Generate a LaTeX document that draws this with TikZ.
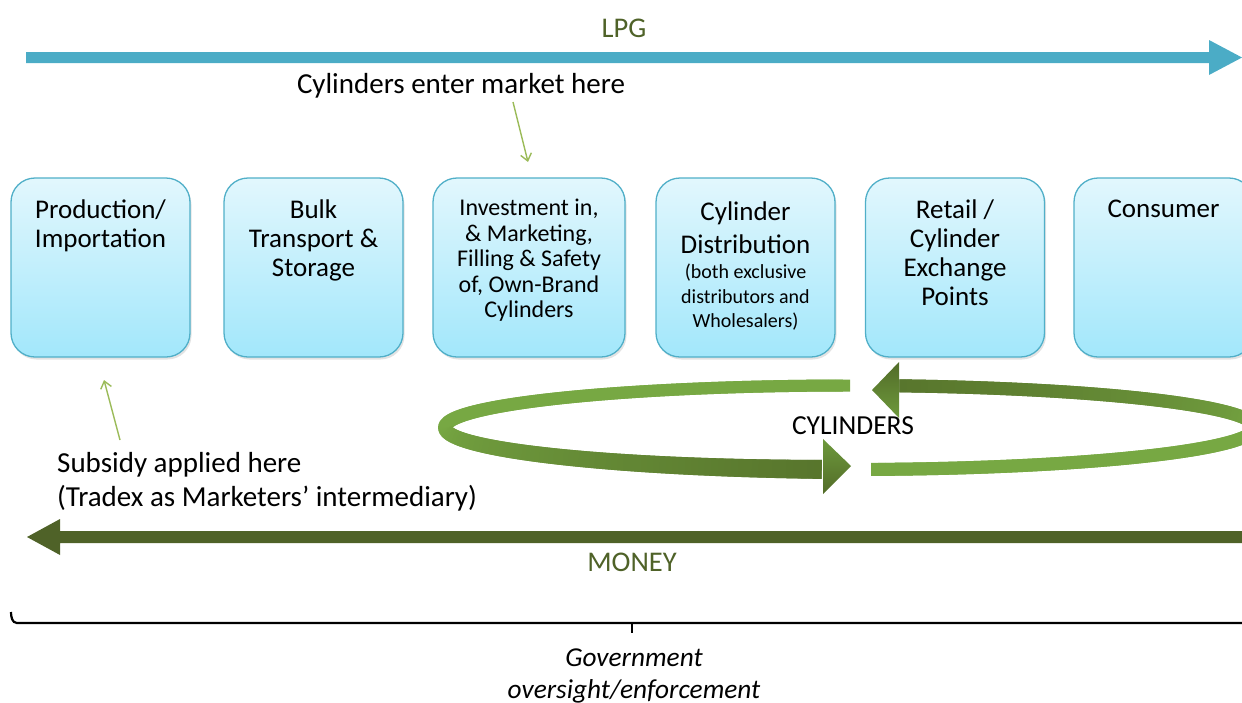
\documentclass[tikz,border=0pt]{standalone}
\usepackage{fontspec}
\setmainfont{Carlito}
\usetikzlibrary{shadows,arrows.meta}
\definecolor{lpgblue}{RGB}{75,172,198}
\definecolor{olivetxt}{RGB}{79,98,40}
\definecolor{lgreen}{RGB}{119,168,67}
\definecolor{dgreen}{RGB}{82,108,40}
\definecolor{tgreen}{RGB}{155,187,89}
\definecolor{boxedge}{RGB}{80,175,200}
\definecolor{boxtop}{RGB}{226,247,253}
\definecolor{boxbot}{RGB}{162,231,251}
\begin{document}
\begin{tikzpicture}[x=1pt,y=-1pt,
  stagebox/.style={rounded corners=24pt, draw=boxedge, line width=1.3pt,
    top color=boxtop, bottom color=boxbot, minimum width=179pt,
    minimum height=179pt, inner sep=0pt,
    drop shadow={shadow xshift=1.5pt, shadow yshift=-2.5pt, opacity=0.22}},
  boxtext/.style={align=center, inner sep=0pt, anchor=north,
    font=\fontsize{27}{29}\selectfont},
  labeltext/.style={inner sep=0pt, font=\fontsize{29}{34}\selectfont},
  thinarrow/.style={draw=tgreen, line width=1.4pt,
    -{Straight Barb[length=7pt,width=11pt,line width=1.4pt]}},
]
\useasboundingbox (0,0) rectangle (1242,702);
\clip (0,0) rectangle (1242,702);

% LPG arrow
\fill[lpgblue] (26,52) -- (1209,52) -- (1209,40) -- (1242,57.5) -- (1209,75) -- (1209,63) -- (26,63) -- cycle;
\node[labeltext, text=olivetxt, font=\fontsize{28.5}{32}\selectfont] (lpg) at (624,28) {LPG};

% MONEY arrow
\fill[olivetxt] (1260,531) -- (60,531) -- (60,519) -- (27,537) -- (60,555) -- (60,543) -- (1260,543) -- cycle;
\node[labeltext, text=olivetxt, font=\fontsize{28.5}{32}\selectfont] (money) at (632,562) {MONEY};

% Boxes
\node[stagebox] (b1) at (100.5,267.5) {};
\node[stagebox] (b2) at (313.5,267.5) {};
\node[stagebox, minimum width=192pt] (b3) at (529,267.5) {};
\node[stagebox] (b4) at (745.5,267.5) {};
\node[stagebox] (b5) at (955,267.5) {};
\node[stagebox] (b6) at (1163.5,267.5) {};

\node[boxtext] (t1) at (100.5,200) {Production/\\Importation};
\node[boxtext] (t2) at (313.5,200) {Bulk\\Transport \&\\Storage};
\node[boxtext, font=\fontsize{24}{25.5}\selectfont] (t3) at (529,199) {Investment in,\\\& Marketing,\\Filling \& Safety\\of, Own-Brand\\Cylinders};
\node[boxtext, font=\fontsize{27}{33}\selectfont] (t4) at (745.5,202) {Cylinder\\Distribution};
\node[boxtext, font=\fontsize{20}{24.5}\selectfont] (t4b) at (745.5,264) {(both exclusive\\distributors and\\Wholesalers)};
\node[boxtext] (t5) at (955,200) {Retail /\\Cylinder\\Exchange\\Points};
\node[boxtext] (t6) at (1163.5,200) {Consumer};

% annotations
\node[labeltext] (enter) at (461,86) {Cylinders enter market here};
\coordinate (enterA) at (513,102);
\coordinate (enterB) at (528,162);
\draw[thinarrow] (enterA) -- (enterB);

\node[labeltext, align=left, anchor=west] (subsidy) at (57,482) {Subsidy applied here\\(Tradex as Marketers’ intermediary)};
\coordinate (subA) at (120,440);
\coordinate (subB) at (104,380);
\draw[thinarrow] (subA) -- (subB);

% Cylinder loop
\def\cx{850}\def\cy{427.5}\def\rx{405}\def\ry{42}
\foreach \i in {0,...,175}{
  \pgfmathsetmacro\ta{270-\i}
  \pgfmathsetmacro\tb{\ta-1}
  \pgfmathsetmacro\tc{max(\ta-2,94)}
  \pgfmathsetmacro\f{\i/176}
  \pgfmathtruncatemacro\p{max(0,(\f-0.5)*2)*85}
  \pgfmathsetmacro\w{12+7*\f*\f}
  \draw[line width=\w pt, color=dgreen!\p!lgreen, line join=round]
    ({\cx+\rx*cos(\ta)},{\cy+\ry*sin(\ta)}) -- ({\cx+\rx*cos(\tb)},{\cy+\ry*sin(\tb)}) -- ({\cx+\rx*cos(\tc)},{\cy+\ry*sin(\tc)});
}
\foreach \i in {0,...,169}{
  \pgfmathsetmacro\ta{87-\i}
  \pgfmathsetmacro\tb{\ta-1}
  \pgfmathsetmacro\tc{max(\ta-2,-83)}
  \pgfmathsetmacro\f{\i/170}
  \pgfmathtruncatemacro\p{max(0,(\f-0.5)*2)*85}
  \draw[line width=13pt, color=dgreen!\p!lgreen, line join=round]
    ({\cx+\rx*cos(\ta)},{\cy+\ry*sin(\ta)}) -- ({\cx+\rx*cos(\tb)},{\cy+\ry*sin(\tb)}) -- ({\cx+\rx*cos(\tc)},{\cy+\ry*sin(\tc)});
}
\shade[top color=lgreen!75!dgreen, bottom color=dgreen] (823,439) -- (851,466) -- (823,494) -- cycle;
\shade[top color=dgreen, bottom color=lgreen!75!dgreen] (899,362) -- (872,390) -- (899,418) -- cycle;
\node[labeltext, font=\fontsize{27.5}{32}\selectfont] (cyl) at (853,426) {CYLINDERS};

% oversight bracket
\draw[line width=2.2pt] (11,612) to[out=-90,in=180] (17,623) -- (1250,623);
\draw[line width=2.2pt] (632,623) -- (632,633);
\node[labeltext, align=center, font=\itshape\fontsize{27.3}{32}\selectfont] (gov) at (634,676) {Government\\oversight/enforcement};
\end{tikzpicture}
\end{document}
